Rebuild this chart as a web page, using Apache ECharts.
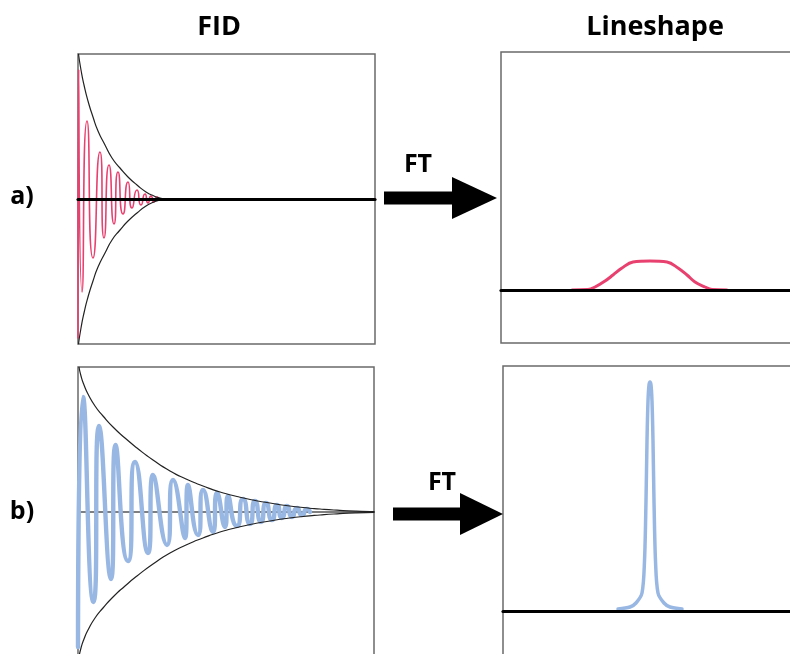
<!DOCTYPE html>
<html>
<head>
<meta charset="utf-8">
<title>FID and Lineshape</title>
<script src="https://cdn.jsdelivr.net/npm/echarts/dist/echarts.min.js"></script>
<style>
  html, body { margin: 0; padding: 0; background: #ffffff; }
  #chart { width: 790px; height: 654px; }
</style>
</head>
<body>
<div id="chart"></div>
<script>
// Panel titles and row labels
const columnTitles = ['FID', 'Lineshape'];
const rowLabels = ['a)', 'b)'];
const transformLabel = 'FT';

// a) fast-decaying FID: turning points [time, amplitude]
const fidA = [
  [0, -139], [0.6, 129], [4, -93], [9, 78], [15, -59], [22, 47], [26, -39],
  [31, 34], [36, -25], [40, 27], [45, -15], [50, 17], [54, -9], [59, 9],
  [63, -6], [67, 5], [70, -4], [73, 3], [76, -3], [79, 2], [82, 0], [297, 0]
];
// a) decay envelope, upper and lower branch
const envAUpper = [
  [0.5, 145], [3, 129], [6, 114], [10, 98], [15, 82], [20, 68], [27, 54],
  [34, 41], [42, 31], [50, 22], [59, 14], [68, 7], [76, 3], [82, 1], [88, 0]
];
const envALower = [
  [0.5, -145], [3, -129], [6, -114], [10, -98], [15, -82], [20, -68], [27, -54],
  [34, -41], [42, -31], [50, -22], [59, -14], [68, -7], [76, -3], [82, -1], [88, 0]
];

// b) slowly decaying FID: turning points [time, amplitude]
const fidB = [
  [0, -135], [5, 115], [15.5, -90], [21, 86], [33, -67], [37.5, 67], [50, -49],
  [57, 50], [70, -41], [75, 37], [89, -33], [95, 32], [107, -26], [110, 27],
  [120, -23], [125, 22], [135, -20], [139, 19], [147, -15], [150, 16],
  [159, -14], [165, 13], [172, -12], [177, 11], [183, -10], [188, 9],
  [194, -8], [199, 7], [204, -6], [209, 6], [214, -5], [219, 4], [224, -3],
  [229, 3], [232, 0]
];
// b) decay envelope, upper and lower branch
const envBUpper = [
  [1, 145], [3, 136], [6, 127], [10, 118], [17, 106], [25, 96], [35, 85],
  [47, 74], [59, 64], [75, 52], [92, 41], [108, 33], [125, 26], [142, 20],
  [159, 15.5], [175, 12], [192, 9], [208, 6.5], [225, 4.5], [242, 3],
  [259, 1.8], [278, 0.8], [296, 0.3]
];
const envBLower = [
  [1, -145], [3, -136], [6, -127], [10, -118], [17, -106], [25, -96], [35, -85],
  [47, -74], [59, -64], [75, -52], [92, -41], [108, -33], [125, -26], [142, -20],
  [159, -15.5], [175, -12], [192, -9], [208, -6.5], [225, -4.5], [242, -3],
  [259, -1.8], [278, -0.8], [296, -0.3]
];

// a) broad lineshape [frequency offset, intensity]
const lineA = [
  [-78, 0], [-62, 0.5], [-55, 3], [-45, 9], [-37, 15], [-28, 22], [-17, 28],
  [0, 29], [17, 28], [28, 22], [37, 15], [45, 8], [55, 3], [62, 0.5], [77, 0]
];
// b) narrow lineshape [frequency offset, intensity]
const lineB = [
  [-32, 2], [-20, 4], [-14, 8], [-8, 18], [-5.5, 50], [-4, 110], [-3, 170],
  [-2, 210], [-1, 226], [0, 229], [1, 226], [2, 210], [3, 170], [4, 110],
  [5.5, 50], [8, 18], [14, 8], [20, 4], [32, 2]
];

const PINK = '#e8406f';
const BLUE = '#98b7e2';
const FONT = '"Open Sans", "Noto Sans", sans-serif';

const chart = echarts.init(document.getElementById('chart'), null, { renderer: 'canvas' });

function grid(left, top, width, height) {
  return {
    left, top, width, height, outerBoundsMode: 'none',
    show: true, borderColor: '#6a6a6a', borderWidth: 1.5, backgroundColor: 'transparent'
  };
}
function xAxis(idx, min, max, baseColor, baseWidth, z) {
  return {
    type: 'value', gridIndex: idx, min, max, z: z,
    axisLine: { show: true, onZero: true, lineStyle: { color: baseColor, width: baseWidth } },
    axisTick: { show: false }, axisLabel: { show: false }, splitLine: { show: false }
  };
}
function yAxis(idx, min, max) {
  return {
    type: 'value', gridIndex: idx, min, max,
    axisLine: { show: false }, axisTick: { show: false }, axisLabel: { show: false }, splitLine: { show: false }
  };
}
function curve(idx, data, color, width, smooth, z) {
  return {
    type: 'line', xAxisIndex: idx, yAxisIndex: idx, data, smooth,
    showSymbol: false, symbol: 'none', silent: true, z: z || 2,
    lineStyle: { color, width, cap: 'round', join: 'round' }
  };
}

function arrow(x0, xHead, xTip, yc, shaft, half) {
  return {
    type: 'group',
    children: [
      { type: 'rect', shape: { x: x0, y: yc - shaft / 2, width: xHead - x0 + 2, height: shaft }, style: { fill: '#000' } },
      { type: 'polygon', shape: { points: [[xHead, yc - half], [xTip, yc], [xHead, yc + half]] }, style: { fill: '#000' } }
    ]
  };
}
function label(text, x, y, size) {
  return {
    type: 'text', x, y,
    style: { text, fill: '#000', font: 'bold ' + size + 'px ' + FONT, textAlign: 'center', textVerticalAlign: 'middle' }
  };
}

chart.setOption({
  animation: false,
  grid: [
    grid(78, 54, 297, 290),
    grid(78, 367, 296, 290),
    grid(501, 52, 300, 291),
    grid(503, 366, 300, 291)
  ],
  xAxis: [
    xAxis(0, 0, 297, '#000', 3.2, 5),
    xAxis(1, 0, 296, '#555', 1.5, 0),
    xAxis(2, -149, 151, '#000', 3.2, 5),
    xAxis(3, -147, 153, '#000', 3.2, 5)
  ],
  yAxis: [
    yAxis(0, -145, 145),
    yAxis(1, -145, 145),
    yAxis(2, -53, 238),
    yAxis(3, -46, 245)
  ],
  series: [
    curve(0, fidA, PINK, 1.6, 0.8, 2),
    curve(0, envAUpper, '#222', 1.2, 0.6, 3),
    curve(0, envALower, '#222', 1.2, 0.6, 3),
    curve(1, fidB, BLUE, 4.4, 0.8, 2),
    curve(1, envBUpper, '#222', 1.2, 0.6, 3),
    curve(1, envBLower, '#222', 1.2, 0.6, 3),
    curve(2, lineA, PINK, 3, 0.4, 2),
    curve(3, lineB, BLUE, 3.5, 0.3, 2)
  ],
  graphic: [
    label(columnTitles[0], 219, 27, 27),
    label(columnTitles[1], 655, 27, 27),
    label(rowLabels[0], 22, 197, 25),
    label(rowLabels[1], 22, 512, 25),
    label(transformLabel, 418, 165, 25),
    label(transformLabel, 442, 483, 25),
    arrow(384, 452, 497, 198, 13, 21),
    arrow(393, 460, 503, 514, 13, 21)
  ]
});
</script>
</body>
</html>
